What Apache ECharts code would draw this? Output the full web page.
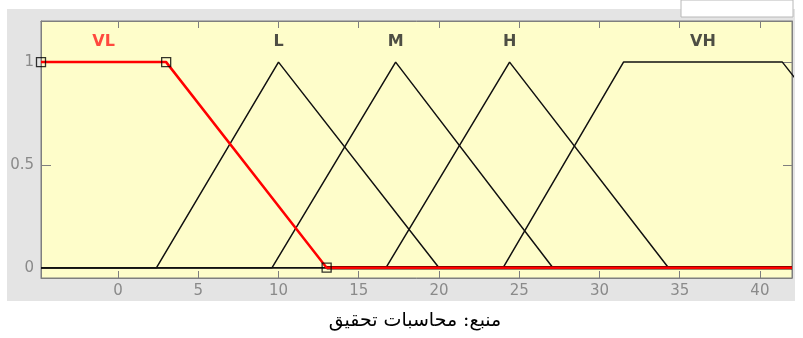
<!DOCTYPE html>
<html>
<head>
<meta charset="utf-8">
<script src="https://cdn.jsdelivr.net/npm/echarts@6/dist/echarts.min.js"></script>
<style>
  html, body { margin: 0; padding: 0; background: #fff; }
  #chart { width: 803px; height: 338px; }
</style>
</head>
<body>
<div id="chart"></div>
<script>
  // axis range and ticks
  const xRange = [-4.8, 42];
  const yRange = [-0.05, 1.2];
  const xTicks = [0, 5, 10, 15, 20, 25, 30, 35, 40];
  const yTicks = [0, 0.5, 1];

  // membership functions
  const mfNames = ['VL', 'L', 'M', 'H', 'VH'];
  const vlParams = [-4.8, -4.8, 3, 13];   // trapmf, selected one (red)
  const lParams = [2.4, 10, 20];          // trimf
  const mParams = [9.6, 17.3, 27.1];      // trimf
  const hParams = [16.7, 24.4, 34.3];     // trimf
  const vhParams = [24, 31.5, 41.4, 51.5]; // trapmf, runs past the right edge
  const caption = 'منبع: محاسبات تحقیق';

  const xMin = xRange[0], xMax = xRange[1];

  function triPoints(p) {
    return [[xMin, 0], [p[0], 0], [p[1], 1], [p[2], 0], [xMax, 0]];
  }
  function trapPoints(p) {
    const pts = [[xMin, 0], [p[0], 0], [p[1], 1], [p[2], 1], [p[3], 0]];
    if (p[3] < xMax) pts.push([xMax, 0]);
    return pts;
  }

  // label position = middle of the top of each function
  const labelX = [
    (vlParams[1] + vlParams[2]) / 2, lParams[1], mParams[1], hParams[1],
    (vhParams[1] + vhParams[2]) / 2
  ];
  const labelColors = ['#ff1a1a', '#222', '#222', '#222', '#222'];

  const blackLine = function (data) {
    return {
      type: 'line', data: data, symbol: 'none', clip: true, silent: true,
      lineStyle: { color: '#111', width: 1.5 }, z: 2
    };
  };

  const chart = echarts.init(document.getElementById('chart'));
  const axisGray = '#7f7f7f';
  const labelStyle = { color: '#8a8a8a', fontFamily: 'DejaVu Sans', fontSize: 15 };

  function makeAxis(pos, min, max, ticks, tickLen, labels, margin) {
    return {
      type: 'value', position: pos, min: min, max: max,
      axisLine: { show: true, onZero: false, lineStyle: { color: axisGray } },
      axisTick: { show: true, inside: true, length: tickLen, customValues: ticks,
                  lineStyle: { color: axisGray } },
      axisLabel: labels ? Object.assign({ margin: margin, customValues: ticks }, labelStyle)
                        : { show: false },
      splitLine: { show: false }
    };
  }

  chart.setOption({
    animation: false,
    graphic: [
      { type: 'rect', z: -10, shape: { x: 7, y: 9, width: 788, height: 292 },
        style: { fill: '#e4e4e4' } },
      { type: 'rect', z: -5, shape: { x: 681, y: 0, width: 112, height: 17 },
        style: { fill: '#fff', stroke: '#b8b8b8', lineWidth: 1 } },
      { type: 'text', x: 415, y: 321,
        style: { text: caption, fill: '#000', font: '19px "DejaVu Serif", "DejaVu Sans"',
                 textAlign: 'center', textVerticalAlign: 'middle' } }
    ],
    grid: {
      left: 41, right: 11, top: 21, bottom: 60,
      show: true, backgroundColor: '#fefdca', borderColor: axisGray, borderWidth: 1
    },
    xAxis: [
      makeAxis('bottom', xMin, xMax, xTicks, 7, true, 6),
      makeAxis('top', xMin, xMax, xTicks, 7, false)
    ],
    yAxis: [
      makeAxis('left', yRange[0], yRange[1], yTicks, 10, true, 7),
      makeAxis('right', yRange[0], yRange[1], yTicks, 9, false)
    ],
    series: [
      blackLine(triPoints(lParams)),
      blackLine(triPoints(mParams)),
      blackLine(triPoints(hParams)),
      blackLine(trapPoints(vhParams)),
      // dark edge under the red tail of VL
      {
        type: 'line', symbol: 'none', silent: true, z: 3,
        data: [[vlParams[3], 0], [xMax, 0]],
        lineStyle: { color: '#2a0000', width: 3.6 }
      },
      {
        type: 'line', symbol: 'none', silent: true, z: 4, clip: true,
        data: [[vlParams[1], 1], [vlParams[2], 1], [vlParams[3], 0], [xMax, 0]],
        lineStyle: { color: '#ff0000', width: 2.5 }
      },
      // parameter markers of the selected function
      {
        type: 'scatter', symbol: 'rect', symbolSize: 9, z: 5, silent: true,
        data: [[vlParams[1], 1], [vlParams[2], 1], [vlParams[3], 0]],
        itemStyle: { color: 'rgba(0,0,0,0)', borderColor: '#000', borderWidth: 1.3 }
      },
      // function names
      {
        type: 'scatter', symbolSize: 0, z: 6, silent: true,
        data: mfNames.map(function (n, i) {
          return { name: n, value: [labelX[i], 1.1], label: { color: labelColors[i] } };
        }),
        label: {
          show: true, position: 'inside', formatter: '{b}',
          fontFamily: 'DejaVu Sans', fontWeight: 'bold', fontSize: 16
        }
      }
    ]
  });
</script>
</body>
</html>
